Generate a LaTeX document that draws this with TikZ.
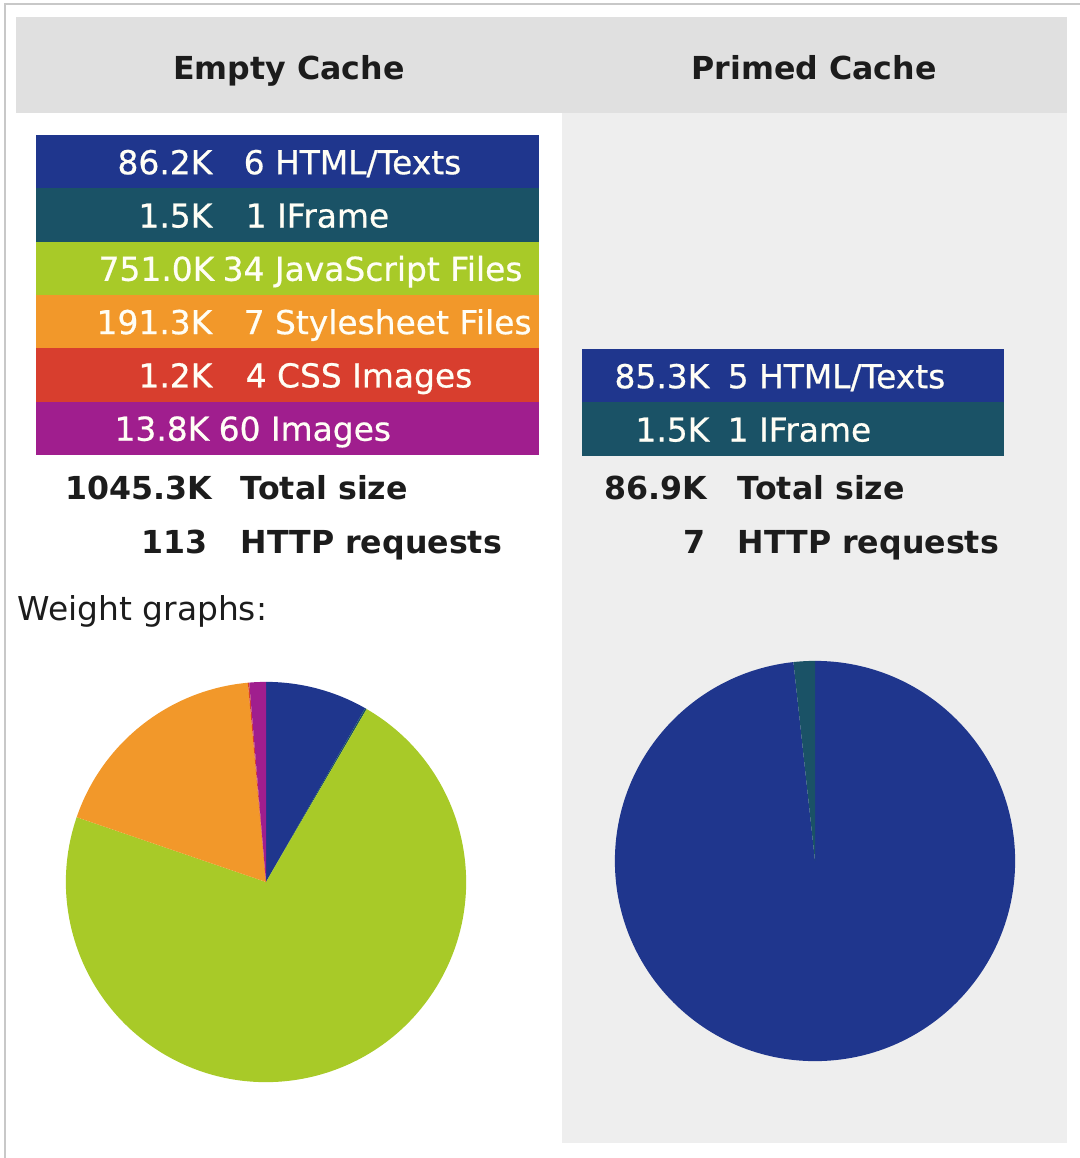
\documentclass[tikz,border=0pt]{standalone}
\usepackage{fontspec}
\setmainfont{DejaVu Sans}
\usetikzlibrary{positioning}
\definecolor{htmlblue}{RGB}{31,54,141}
\definecolor{frameteal}{RGB}{26,82,102}
\definecolor{jsgreen}{RGB}{168,202,40}
\definecolor{cssorange}{RGB}{242,152,42}
\definecolor{cssred}{RGB}{216,62,46}
\definecolor{imgpurple}{RGB}{160,30,142}
\definecolor{headgray}{RGB}{224,224,224}
\definecolor{panelgray}{RGB}{238,238,238}
\definecolor{framegray}{RGB}{200,200,200}
\definecolor{inkblack}{RGB}{28,28,28}
\def\pieradius{2cm}
\tikzstyle{head}=[font=\bfseries\fontsize{9}{11}\selectfont, text=inkblack, inner sep=0pt, anchor=mid]
\tikzstyle{bar text}=[font=\fontsize{9.35}{11}\selectfont\addfontfeature{FakeBold=0.6}, text=white!96!yellow, inner sep=0pt]
\tikzstyle{bar value}=[bar text, anchor=mid east]
\tikzstyle{bar label}=[bar text, anchor=mid west]
\tikzstyle{total}=[font=\bfseries\fontsize{9}{11}\selectfont, text=inkblack, inner sep=0pt]
\tikzstyle{total value}=[total, anchor=mid east]
\tikzstyle{total label}=[total, anchor=mid west]

\begin{document}
\begin{tikzpicture}[x=0.01cm, y=-0.01cm]
		\useasboundingbox (0,0) rectangle (1080,1158);
		% Draw the frame and the two columns
		\draw[framegray, line width=0.6pt] (5,1158) -- (5,4) -- (1080,4);
		\fill[headgray] (16,17) rectangle (1067,113);
		\fill[panelgray] (562,113) rectangle (1067,1143);
		\node[head] (empty) at (289,70) {Empty Cache};
		\node[head] (primed) at (814,70) {Primed Cache};

		% Draw the rows of the empty cache
		\foreach \i/\col/\val/\vx/\lab/\lx in {1/htmlblue/86.2K/213/{6 HTML/Texts}/243,
			2/frameteal/1.5K/213/{1 IFrame}/245,
			3/jsgreen/751.0K/215/{34 JavaScript Files}/222,
			4/cssorange/191.3K/213/{7 Stylesheet Files}/243,
			5/cssred/1.2K/213/{4 CSS Images}/245,
			6/imgpurple/13.8K/210/{60 Images}/218}
		{
		\fill[\col] (36,81.7+53.3*\i) rectangle (539,135+53.3*\i);
		\node[bar value] (ev-\i) at (\vx,111.3+53.3*\i) {\val};
		\node[bar label] (el-\i) at (\lx,111.3+53.3*\i) {\lab};
		}

		% Draw the rows of the primed cache
		\foreach \i/\col/\val/\lab in {1/htmlblue/85.3K/{5 HTML/Texts}, 2/frameteal/1.5K/{1 IFrame}}
		{
		\fill[\col] (582,295.7+53.3*\i) rectangle (1004,349+53.3*\i);
		\node[bar value] (pv-\i) at (710,325.3+53.3*\i) {\val};
		\node[bar label] (pl-\i) at (727,325.3+53.3*\i) {\lab};
		}

		% Totals
		\node[total value] (es) at (213,490) {1045.3K};
		\node[total label, right=0.27cm of es.mid east, anchor=mid west] (es-l) {Total size};
		\node[total value] (er) at (208,544) {113};
		\node[total label, right=0.32cm of er.mid east, anchor=mid west] (er-l) {HTTP requests};
		\node[total value] (ps) at (708,490) {86.9K};
		\node[total label, right=0.29cm of ps.mid east, anchor=mid west] (ps-l) {Total size};
		\node[total value] (pr) at (706,544) {7};
		\node[total label, right=0.31cm of pr.mid east, anchor=mid west] (pr-l) {HTTP requests};

		\node[font=\fontsize{9.35}{11}\selectfont, text=inkblack, inner sep=0pt, anchor=mid west] (weight) at (17,611) {Weight graphs:};

		% Pie of the empty cache
		\coordinate (pieE) at (266,882);
		\foreach \a/\b/\col in {90/60.3/htmlblue, 60.3/59.8/frameteal, 59.8/-198.9/jsgreen,
			-198.9/-264.8/cssorange, -264.8/-265.2/cssred, -265.2/-270/imgpurple}
		\fill[\col] (pieE) -- ++(\a:\pieradius) arc[start angle=\a, end angle=\b, radius=\pieradius] -- cycle;

		% Pie of the primed cache
		\coordinate (pieP) at (815,861);
		\foreach \a/\b/\col in {90/-263.8/htmlblue, 96.2/90/frameteal}
		\fill[\col] (pieP) -- ++(\a:\pieradius) arc[start angle=\a, end angle=\b, radius=\pieradius] -- cycle;
	\end{tikzpicture}
\end{document}
